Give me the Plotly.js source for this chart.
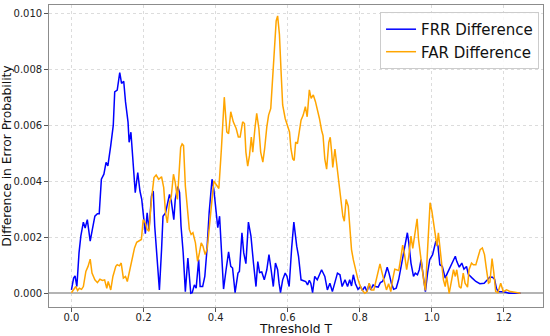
<!DOCTYPE html>
<html>
<head>
<meta charset="utf-8">
<script src="https://cdn.plot.ly/plotly-3.0.1.min.js"></script>
<style>html,body{margin:0;padding:0;background:#fff;}#chart{width:550px;height:336px;}</style>
</head>
<body>
<div id="chart"></div>
<script>
// Threshold values (T) and differences (in units of 0.001)
const frrT = [0.000,0.006,0.010,0.015,0.021,0.026,0.033,0.038,0.044,0.052,0.058,0.065,0.072,0.077,0.083,0.090,0.096,0.101,0.109,0.116,0.120,0.127,0.134,0.139,0.145,0.150,0.157,0.160,0.165,0.171,0.177,0.184,0.190,0.195,0.199,0.205,0.210,0.215,0.222,0.227,0.231,0.238,0.244,0.250,0.254,0.261,0.266,0.272,0.277,0.284,0.288,0.295,0.300,0.304,0.310,0.316,0.323,0.327,0.331,0.335,0.341,0.346,0.353,0.357,0.364,0.370,0.376,0.382,0.390,0.395,0.401,0.406,0.411,0.416,0.422,0.429,0.436,0.442,0.447,0.454,0.462,0.466,0.473,0.478,0.484,0.491,0.498,0.505,0.512,0.517,0.522,0.528,0.535,0.542,0.548,0.554,0.560,0.566,0.572,0.576,0.580,0.586,0.593,0.598,0.604,0.611,0.617,0.625,0.630,0.637,0.643,0.650,0.655,0.660,0.664,0.669,0.675,0.682,0.694,0.703,0.710,0.717,0.724,0.731,0.738,0.745,0.751,0.759,0.766,0.772,0.777,0.782,0.788,0.795,0.802,0.807,0.814,0.820,0.826,0.830,0.837,0.843,0.851,0.857,0.863,0.869,0.876,0.881,0.888,0.894,0.901,0.908,0.915,0.919,0.926,0.932,0.936,0.942,0.949,0.954,0.960,0.965,0.970,0.976,0.982,0.988,0.994,1.002,1.011,1.017,1.022,1.029,1.037,1.043,1.051,1.057,1.065,1.069,1.076,1.083,1.089,1.096,1.101,1.112,1.122,1.133,1.145,1.154,1.161,1.168,1.174,1.179,1.184,1.200,1.214,1.230,1.246];
const frrMilli = [0.12,0.54,0.62,0.24,1.44,2.04,2.54,2.33,2.63,1.86,2.28,2.75,2.84,2.84,4.07,4.25,4.67,4.55,5.27,5.99,7.19,7.25,7.88,7.49,7.57,6.83,6.11,5.39,5.75,4.79,3.59,4.31,3.65,3.35,2.75,2.13,2.87,2.25,3.47,3.65,2.40,1.32,0.12,1.56,2.75,2.87,3.23,3.53,3.29,2.63,3.35,3.81,3.59,2.40,1.44,0.06,1.26,0.66,0.00,0.02,0.30,0.18,1.20,0.24,0.24,0.60,1.56,2.87,4.07,3.71,2.99,2.34,2.75,1.30,0.15,0.84,1.48,0.96,0.90,0.02,0.72,0.78,2.16,1.44,1.06,2.54,2.04,1.08,0.24,1.13,0.74,0.76,0.48,0.84,1.38,0.84,0.24,1.08,0.84,0.36,0.02,0.48,0.72,0.60,0.24,1.62,2.54,1.68,1.32,0.48,0.46,0.42,0.30,0.46,0.36,0.02,0.60,0.48,0.84,0.60,0.12,0.36,0.06,0.42,0.72,0.66,0.24,0.48,0.24,0.48,0.26,0.66,0.34,0.14,0.24,0.10,0.24,0.06,0.34,0.12,0.30,0.24,0.22,0.38,0.42,0.60,0.93,0.72,0.34,0.14,0.18,0.50,0.96,1.30,1.68,2.16,1.80,1.08,0.60,0.72,0.66,0.84,1.20,0.60,0.06,0.72,1.20,1.38,1.86,1.68,1.02,0.96,0.54,0.72,0.96,1.14,1.32,1.14,0.93,1.08,0.86,0.96,0.68,0.54,0.42,0.34,0.36,0.48,0.58,0.57,0.50,0.18,0.06,0.05,0.00,0.00,0.00];

const farT = [0.000,0.006,0.012,0.017,0.022,0.028,0.033,0.040,0.046,0.052,0.057,0.065,0.072,0.079,0.086,0.092,0.098,0.102,0.109,0.115,0.123,0.127,0.133,0.138,0.144,0.150,0.155,0.162,0.169,0.175,0.181,0.187,0.194,0.199,0.205,0.210,0.215,0.222,0.229,0.235,0.242,0.250,0.256,0.261,0.266,0.272,0.277,0.283,0.288,0.294,0.298,0.303,0.307,0.311,0.316,0.323,0.327,0.332,0.337,0.344,0.350,0.355,0.360,0.365,0.371,0.377,0.383,0.390,0.395,0.401,0.409,0.416,0.424,0.431,0.436,0.442,0.449,0.457,0.463,0.468,0.475,0.480,0.484,0.489,0.494,0.499,0.503,0.509,0.514,0.520,0.525,0.531,0.536,0.542,0.547,0.553,0.559,0.564,0.568,0.572,0.577,0.582,0.586,0.593,0.599,0.605,0.609,0.614,0.618,0.622,0.627,0.631,0.637,0.643,0.649,0.654,0.660,0.665,0.671,0.677,0.682,0.688,0.694,0.698,0.703,0.708,0.714,0.718,0.722,0.725,0.731,0.736,0.742,0.747,0.753,0.757,0.762,0.768,0.772,0.777,0.782,0.788,0.794,0.800,0.806,0.814,0.820,0.826,0.832,0.839,0.844,0.851,0.856,0.862,0.867,0.874,0.880,0.886,0.891,0.897,0.902,0.908,0.913,0.919,0.924,0.930,0.936,0.942,0.947,0.953,0.959,0.963,0.968,0.972,0.977,0.982,0.986,0.991,0.995,1.000,1.005,1.009,1.014,1.018,1.023,1.028,1.032,1.037,1.041,1.048,1.054,1.060,1.065,1.069,1.076,1.081,1.087,1.092,1.099,1.103,1.110,1.115,1.122,1.128,1.134,1.140,1.146,1.151,1.157,1.161,1.167,1.172,1.177,1.183,1.191,1.198,1.207,1.218,1.230,1.246];
const farMilli = [0.02,0.12,0.24,0.10,0.18,0.14,0.24,0.78,0.96,1.22,0.72,0.48,0.38,0.50,0.46,0.48,0.18,0.42,0.12,0.60,0.96,1.02,0.98,1.08,0.54,0.60,0.42,0.84,1.32,1.62,1.82,1.86,1.92,2.63,2.51,2.28,2.22,3.35,4.13,4.22,4.07,4.16,3.77,2.87,2.51,3.23,3.47,4.25,3.95,3.35,4.19,5.21,5.33,5.27,3.83,2.99,2.28,2.10,2.16,1.80,1.14,1.44,1.80,1.68,1.38,1.62,2.40,3.35,4.01,3.89,3.74,5.15,7.00,5.76,5.70,6.48,6.12,5.88,5.58,5.58,6.12,6.06,5.04,4.54,4.92,5.58,5.04,5.88,6.42,5.88,5.04,4.68,5.16,5.94,6.36,6.60,7.80,9.12,9.72,9.90,9.24,7.80,6.72,6.24,6.00,5.76,5.16,4.80,4.74,5.40,5.34,5.70,6.18,6.36,6.66,6.30,7.26,6.96,7.08,6.84,6.60,6.24,5.82,5.63,4.79,4.43,5.39,5.57,5.03,4.49,5.15,4.55,3.95,3.35,2.75,2.57,3.35,3.11,2.28,1.56,1.20,0.84,0.54,0.30,0.12,0.00,0.06,0.36,0.12,0.12,0.42,0.84,1.05,0.72,0.42,0.12,0.34,0.06,0.48,0.86,0.84,0.81,1.20,1.72,1.40,0.84,1.32,2.04,1.60,2.10,2.66,1.92,1.32,0.90,0.48,0.10,1.20,2.63,3.23,2.93,2.51,2.16,1.68,2.16,1.56,0.96,0.48,0.24,0.60,0.00,0.48,0.84,0.60,0.84,0.24,0.18,0.72,0.36,0.22,0.84,1.08,1.02,1.02,1.32,1.56,1.62,1.38,0.90,0.36,0.40,1.24,0.72,0.06,0.02,0.36,0.06,0.12,0.06,0.03,0.00];

const seriesNames = ['FRR Difference', 'FAR Difference'];
const xTitle = 'Threshold T';
const yTitle = 'Difference in Error Probability';
const xTicks = [0.0, 0.2, 0.4, 0.6, 0.8, 1.0, 1.2];
const yTicks = [0.000, 0.002, 0.004, 0.006, 0.008, 0.010];

const toProb = a => a.map(v => v / 1000);

const font = 'DejaVu Sans, sans-serif';
const traces = [
  {x: frrT, y: toProb(frrMilli), name: seriesNames[0], type: 'scatter', mode: 'lines',
   line: {color: '#0000ff', width: 1.5}},
  {x: farT, y: toProb(farMilli), name: seriesNames[1], type: 'scatter', mode: 'lines',
   line: {color: '#ffa500', width: 1.5}}
];

const axisCommon = {
  showline: true, mirror: true, linecolor: '#8c8c8c', linewidth: 1.3,
  ticks: 'outside', ticklen: 3.5, tickcolor: '#555', tickwidth: 1,
  showgrid: true, gridcolor: '#dcdcdc', griddash: 'dot', gridwidth: 1,
  tickfont: {family: font, size: 10, color: '#222'}
};

const layout = {
  width: 550, height: 336,
  margin: {l: 49, r: 7, t: 5, b: 29},
  paper_bgcolor: '#fff', plot_bgcolor: '#fff',
  showlegend: true,
  xaxis: Object.assign({}, axisCommon, {
    range: [-0.0623, 1.3083], tickvals: xTicks, ticktext: xTicks.map(v => v.toFixed(1)),
    zeroline: false, automargin: false, ticklabelstandoff: -3
  }),
  yaxis: Object.assign({}, axisCommon, {
    range: [-0.00049, 0.01029], tickvals: yTicks, ticktext: yTicks.map(v => v.toFixed(3)),
    zeroline: true, zerolinecolor: '#b4b4b4', zerolinewidth: 2, automargin: false,
    title: {text: yTitle, font: {family: font, size: 12.3, color: '#111'}, standoff: 1}
  }),
  annotations: [{
    text: xTitle, xref: 'paper', yref: 'paper', x: 0.5, y: -0.072,
    xanchor: 'center', yanchor: 'middle', showarrow: false, borderpad: 0,
    font: {family: font, size: 12.3, color: '#111'}
  }],
  legend: {
    x: 0.992, y: 0.977, xanchor: 'right', yanchor: 'top',
    bgcolor: 'rgba(255,255,255,0.85)', bordercolor: '#cccccc', borderwidth: 1,
    font: {family: font, size: 15, color: '#111'}
  }
};

Plotly.newPlot('chart', traces, layout, {displayModeBar: false, staticPlot: true});
</script>
</body>
</html>
